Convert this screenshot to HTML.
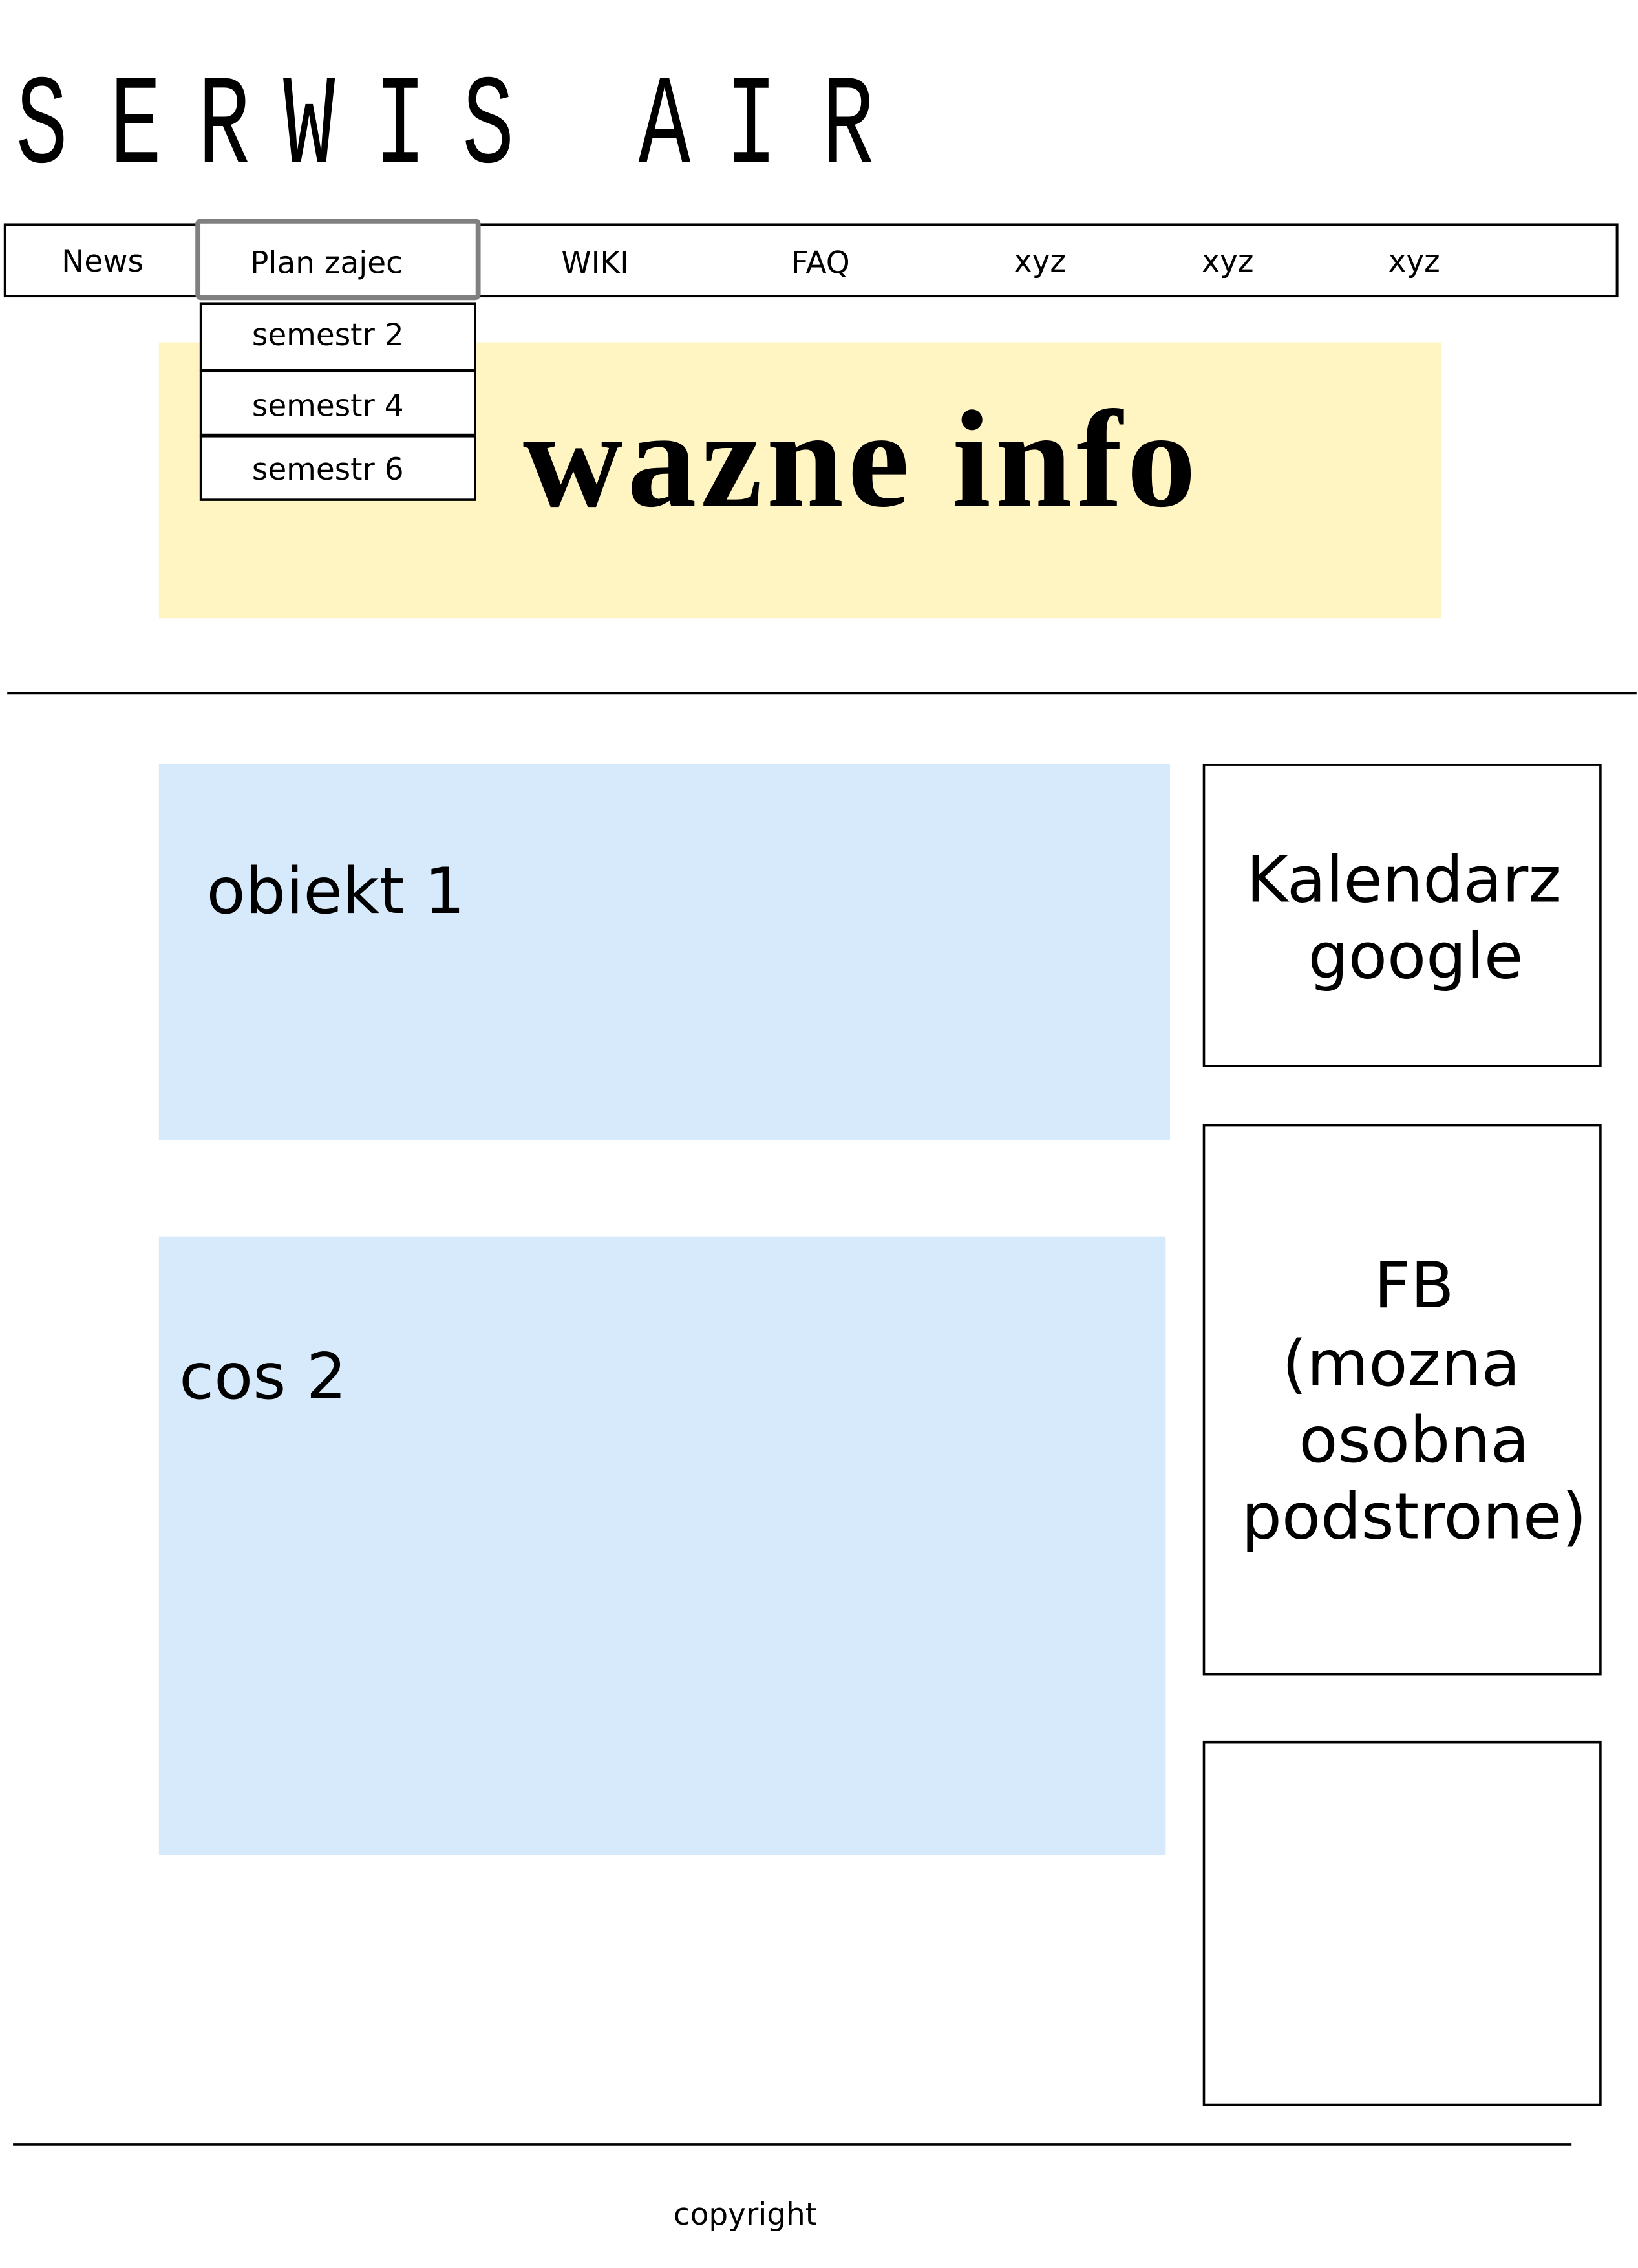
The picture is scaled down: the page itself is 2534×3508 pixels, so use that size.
<!DOCTYPE html>
<html><head><meta charset="utf-8"><style>
html,body{margin:0;padding:0;background:#fff;}
svg{display:block;}
.d{font-family:"DejaVu Sans","Liberation Sans",sans-serif;fill:#000;}
.t{font-family:"Liberation Mono",monospace;font-size:88px;fill:#000;}
</style></head><body>
<svg width="2534" height="3508" viewBox="0 0 1134 1570" preserveAspectRatio="none" xmlns="http://www.w3.org/2000/svg">
<rect x="0" y="0" width="1134" height="1570" fill="#fff"/>
<!-- title -->
<g class="t" text-anchor="middle">
<text transform="translate(29,112) scale(0.68,1)">S</text>
<text transform="translate(94,112) scale(0.68,1)">E</text>
<text transform="translate(155,112) scale(0.68,1)">R</text>
<text transform="translate(214,112) scale(0.68,1)">W</text>
<text transform="translate(277,112) scale(0.68,1)">I</text>
<text transform="translate(338,112) scale(0.68,1)">S</text>
<text transform="translate(460,112) scale(0.68,1)">A</text>
<text transform="translate(520,112) scale(0.68,1)">I</text>
<text transform="translate(587,112) scale(0.68,1)">R</text>
</g>
<!-- yellow -->
<rect x="110" y="237" width="888" height="191" fill="#FFF5C2"/>
<!-- nav -->
<rect x="3.5" y="155.5" width="1116" height="49.5" fill="#fff" stroke="#000" stroke-width="1.8"/>
<rect x="137" y="153" width="194" height="53" fill="#fff" stroke="#808080" stroke-width="3.5" rx="2"/>
<g class="d" font-size="21" text-anchor="middle">
<text x="71" y="188">News</text>
<text x="226" y="189">Plan zajec</text>
<text x="412" y="189">WIKI</text>
<text x="568" y="189">FAQ</text>
<text x="720" y="188">xyz</text>
<text x="850" y="188">xyz</text>
<text x="979" y="188">xyz</text>
</g>
<!-- dropdown -->
<g fill="#fff" stroke="#000" stroke-width="1.6">
<rect x="139" y="210" width="190" height="46"/>
<rect x="139" y="257" width="190" height="44"/>
<rect x="139" y="302" width="190" height="44"/>
</g>
<g class="d" font-size="21" text-anchor="middle">
<text x="227" y="239">semestr 2</text>
<text x="227" y="288">semestr 4</text>
<text x="227" y="332">semestr 6</text>
</g>
<text x="362" y="350" font-family="Liberation Serif,serif" font-weight="bold" font-size="96" textLength="466" lengthAdjust="spacing">wazne info</text>
<line x1="5" y1="480" x2="1133" y2="480" stroke="#000" stroke-width="1.6"/>
<!-- blue -->
<rect x="110" y="529" width="700" height="260" fill="#D6EAFB"/>
<rect x="110" y="856" width="697" height="428" fill="#D6EAFB"/>
<g class="d" font-size="44">
<text x="143" y="632">obiekt 1</text>
<text x="124" y="968">cos 2</text>
</g>
<!-- right -->
<g fill="none" stroke="#000" stroke-width="1.6">
<rect x="833.5" y="529.5" width="274.5" height="208.5"/>
<rect x="833.5" y="779" width="274.5" height="380"/>
<rect x="833.5" y="1206" width="274.5" height="251"/>
</g>
<g class="d" font-size="44" text-anchor="middle">
<text x="972" y="624">Kalendarz</text>
<text x="980" y="677">google</text>
<text x="979" y="905">FB</text>
<text x="970" y="959">(mozna</text>
<text x="979" y="1012">osobna</text>
<text x="979" y="1065">podstrone)</text>
</g>
<line x1="9" y1="1484.5" x2="1088" y2="1484.5" stroke="#000" stroke-width="1.6"/>
<text class="d" x="516" y="1540" font-size="21" text-anchor="middle">copyright</text>
</svg>
</body></html>
